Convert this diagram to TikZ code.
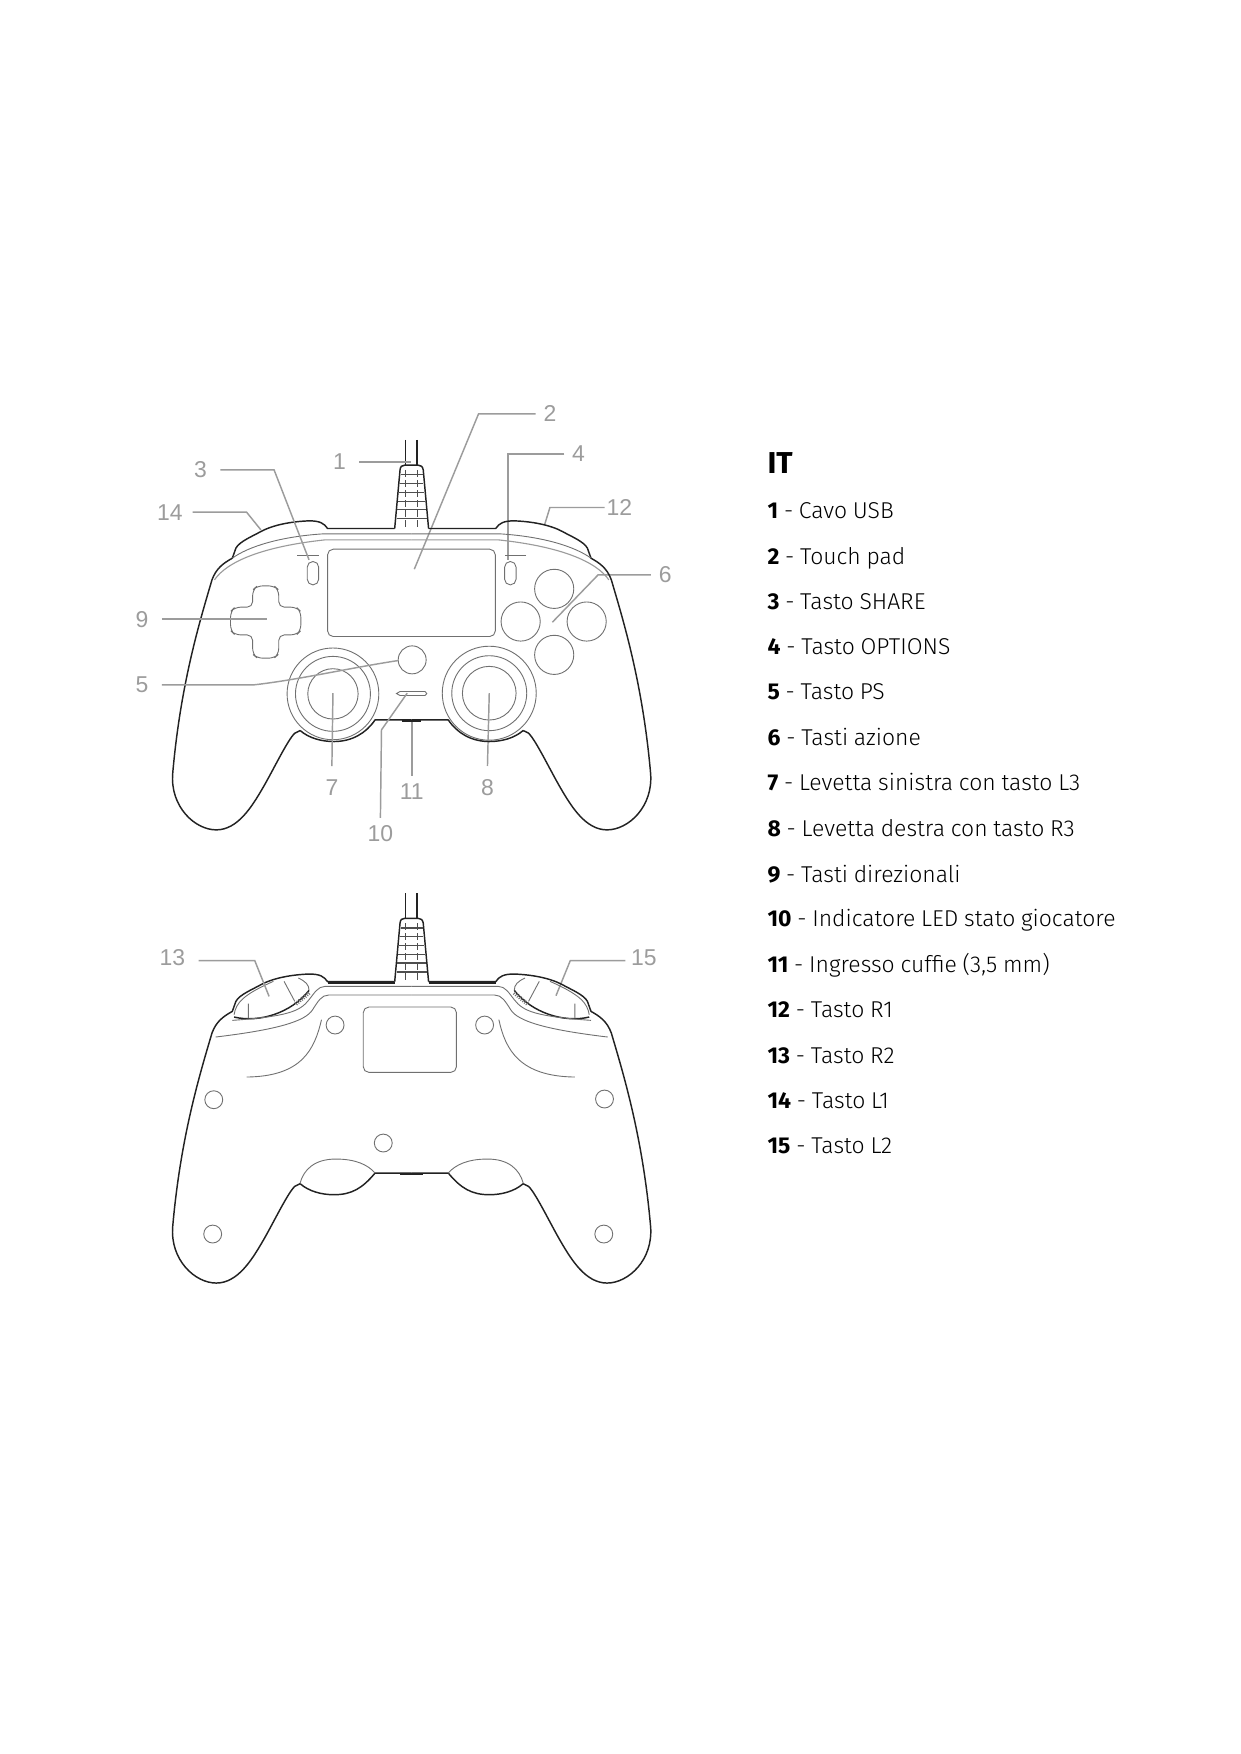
\documentclass[tikz,border=0pt]{standalone}
\usepackage{fontspec}
\setmainfont{Fira Sans Light}[WordSpace=0.9]
\newfontfamily\labfont{Liberation Sans}
\IfFontExistsTF{Fira Sans Heavy}{\newfontfamily\heavyfont{Fira Sans Heavy}}{\newfontfamily\heavyfont{Fira Sans Bold}}
\definecolor{labgrey}{HTML}{9C9C9C}
\definecolor{inkline}{HTML}{222222}
\definecolor{thinline}{HTML}{707070}
\tikzset{
  bodyline/.style={draw=inkline,line width=1.3pt,line join=round},
  thinl/.style={draw=thinline,line width=0.8pt},
  softl/.style={draw=thinline!70,line width=1pt},
  leader/.style={draw=labgrey,line width=1.3pt},
  lab/.style={font=\labfont\fontsize{20.5}{20.5}\selectfont,text=labgrey,inner sep=0pt,outer sep=7pt},
  labl/.style={lab,outer sep=12pt},
  item/.style={font=\fontsize{20.5}{24}\selectfont,anchor=base west,inner sep=0pt,text=black},
  mirrorscope/.style={x=-0.319pt,y=-0.298pt},
  plainscope/.style={x=0.319pt,y=-0.298pt}
}
\newcommand{\itemline}[4]{\node[item] (#1) at (686,#2) {{\heavyfont #3} - #4};}
% left half of the shell, in zoom units
\newcommand{\shellhalf}{
  \draw[bodyline] (770,416) -- (582,416) .. controls (572,400) and (560,393) .. (530,393)
    .. controls (480,395) and (430,405) .. (395,425)
    .. controls (370,440) and (335,455) .. (325,475)
    -- (315,505)
    .. controls (290,520) and (270,535) .. (258,570)
    .. controls (225,690) and (170,880) .. (148,1150)
    .. controls (140,1250) and (210,1320) .. (270,1320)
    .. controls (330,1320) and (370,1250) .. (400,1195)
    .. controls (430,1140) and (470,1050) .. (490,1030) -- (505,1022);
}
\newcommand{\cablestub}{
  \draw[bodyline] (800,150) -- (800,226) (832,150) -- (832,226);
  \draw[bodyline] (770,416) -- (785,240) .. controls (786,230) and (790,226) .. (798,226)
    -- (836,226) .. controls (844,226) and (848,230) .. (850,240) -- (865,416);
  \foreach \ry/\rw in {255/31,280/33,307/36,335/38,360/40,387/42}{
    \draw[draw=inkline!80,line width=1.1pt] (817.5-\rw,\ry) -- (817.5+\rw,\ry);
  }
  \draw[draw=inkline!80,line width=1pt,dash pattern=on 6pt off 3pt] (800,240) -- (800,410) (835,240) -- (835,410);
}
\newcommand{\fronthalf}{
  \shellhalf
  \draw[bodyline] (505,1022) .. controls (530,1045) and (565,1055) .. (600,1055)
    .. controls (650,1055) and (690,1030) .. (715,990) -- (817.5,990);
  \draw[softl] (265,570) .. controls (300,515) and (400,470) .. (575,450) -- (817.5,450);
  \draw[thinl] (315,505) .. controls (360,470) and (450,440) .. (570,432) -- (817.5,432);
  \draw[thinl,line width=1.2pt] (497,497) -- (557,497);
  \draw[thinl,rounded corners=5pt] (525,515) rectangle (557,585);
}
\newcommand{\backhalf}{
  \begin{scope}[shift={(0,-110)}]\shellhalf\end{scope}
  \draw[bodyline] (505,912) .. controls (530,935) and (565,945) .. (600,945)
    .. controls (650,945) and (680,925) .. (715,880) -- (817.5,880);
  \draw[thinl] (505,910) .. controls (515,870) and (545,838) .. (605,838)
    .. controls (660,838) and (695,855) .. (715,880);
  \draw[bodyline] (320,412) .. controls (390,430) and (480,400) .. (530,332);
  \draw[thinl] (320,405) .. controls (325,370) and (345,345) .. (430,305);
  \draw[thinl] (500,295) .. controls (520,305) and (530,315) .. (530,332);
  \draw[thinl] (460,305) -- (490,365) (360,372) -- (360,415);
  \foreach \hk in {0,1,...,7}{
    \draw[thinl] (490+5*\hk,368-4.5*\hk) -- (498+5*\hk,376-4.5*\hk);
  }
  \draw[bodyline] (770,310) -- (582,310);
  \draw[thinl] (817.5,320) -- (575,320) .. controls (555,320) and (545,340) .. (530,360)
     .. controls (505,395) and (470,410) .. (315,422);
  \draw[thinl] (817.5,346) -- (585,346) .. controls (565,346) and (555,365) .. (540,390)
     .. controls (520,425) and (440,450) .. (268,472);
}
\begin{document}
\begin{tikzpicture}[x=1pt,y=-1pt]
\useasboundingbox (0,0) rectangle (1109,1568);
\fill[white] (0,0) rectangle (1109,1568);

% ===== front view =====
\begin{scope}[shift={(107.2,348.5)},plainscope]
  \fronthalf
  \cablestub
  \draw[thinl,rounded corners=5pt] (582,478) rectangle (1052,740);
  \draw[thinl,rounded corners=5pt] (372,652) -- (372,600) -- (385,588) -- (432,588) -- (445,600)
    -- (445,652) -- (495,652) -- (507,665) -- (507,722) -- (495,735) -- (445,735)
    -- (445,793) -- (432,805) -- (385,805) -- (372,793) -- (372,735) -- (322,735)
    -- (310,722) -- (310,665) -- (322,652) -- cycle;
  \foreach \cx/\cy in {1217/597,1123/695,1308/695,1217/795}{
    \draw[thinl] (\cx,\cy) circle[radius=17.5pt];
  }
  \draw[thinl] (819,810) circle[radius=12.5pt];
  \foreach \rr in {41,33.5,22.5}{\draw[thinl] (597,912) circle[radius=\rr pt];}
  \foreach \rr in {42,33.5,24}{\draw[thinl] (1035,910) circle[radius=\rr pt];}
  \draw[thinl] (785,905) -- (855,905) -- (860,911) -- (855,917) -- (785,917) -- (775,911) -- cycle;
  \draw[bodyline,line width=1.8pt] (790,993) -- (845,993);

  \node[labl] (n1) at (615,216) {1};
  \node[lab] (n2) at (1205,72) {2};
  \node[labl] (n3) at (226,240) {3};
  \node[lab] (n4) at (1285,192) {4};
  \node[labl] (n5) at (62,885) {5};
  \node[lab] (n6) at (1528,555) {6};
  \node[labl] (n7) at (594,1193) {7};
  \node[labl] (n8) at (1030,1193) {8};
  \node[labl] (n9) at (62,688) {9};
  \node[lab] (n10) at (730,1332) {10};
  \node[lab] (n11) at (818,1205) {11};
  \node[lab,outer sep=2pt] (n12) at (1400,353) {12};
  \node[lab,outer sep=9pt] (n14) at (140,367) {14};

  \coordinate (t1) at (815,216);
  \coordinate (b2) at (1005,72);   \coordinate (t2) at (825,538);
  \coordinate (b3) at (432,240);   \coordinate (t3) at (530,510);
  \coordinate (b4) at (1088,192);  \coordinate (t4) at (1088,510);
  \coordinate (b5) at (375,885);   \coordinate (t5) at (780,812);
  \coordinate (b6) at (1340,555);  \coordinate (t6) at (1212,697);
  \coordinate (t7) at (597,910);
  \coordinate (t8) at (1035,910);
  \coordinate (t9) at (412,688);
  \coordinate (b10) at (733,1020); \coordinate (t10) at (805,910);
  \coordinate (t11) at (818,995);
  \coordinate (b12) at (1205,353); \coordinate (t12) at (1190,405);
  \coordinate (b14) at (355,367);  \coordinate (t14) at (395,420);

  \draw[leader] (n1.east) -- (t1);
  \draw[leader] (n2.west) -- (b2) -- (t2);
  \draw[leader] (n3.east) -- (b3) -- (t3);
  \draw[leader] (n4.west) -- (b4) -- (t4);
  \draw[leader] (n5.east) -- (b5) .. controls (500,870) and (640,835) .. (t5);
  \draw[leader] (n6.west) -- (b6) -- (t6);
  \draw[leader] (n7.north) -- (t7);
  \draw[leader] (n8.north) -- (t8);
  \draw[leader] (n9.east) -- (t9);
  \draw[leader] (n10.north) -- (b10) -- (t10);
  \draw[leader] (n11.north) -- (t11);
  \draw[leader] (n12.west) -- (b12) -- (t12);
  \draw[leader] (n14.east) -- (b14) -- (t14);
\end{scope}
\begin{scope}[shift={(628.8,348.5)},mirrorscope]
  \fronthalf
\end{scope}

% ===== back view =====
\begin{scope}[shift={(107.2,786.4)},plainscope]
  \backhalf
  \begin{scope}[shift={(0,-110)}]\cablestub\end{scope}
  \draw[thinl,rounded corners=5pt] (682,382) rectangle (943,578);
  \foreach \cx/\cy in {603/436,1022/436,263/660,1358/658,738/790,260/1063,1356/1063}{
    \draw[thinl] (\cx,\cy) circle[radius=8pt];
  }
  \draw[thinl] (565,420) .. controls (545,510) and (510,590) .. (355,592);
  \draw[thinl] (1062,420) .. controls (1080,510) and (1120,590) .. (1275,592);
  \draw[bodyline,line width=1.8pt] (785,883) -- (850,883);
  \node[lab,outer sep=12pt] (n13) at (147,235) {13};
  \node[lab,outer sep=5pt] (n15) at (1468,235) {15};
  \coordinate (b13) at (378,243);  \coordinate (t13) at (418,350);
  \coordinate (b15) at (1262,243); \coordinate (t15) at (1222,348);
  \draw[leader] ([yshift=-2.4pt]n13.east) -- (b13) -- (t13);
  \draw[leader] ([yshift=-2.4pt]n15.west) -- (b15) -- (t15);
\end{scope}
\begin{scope}[shift={(628.8,786.4)},mirrorscope]
  \backhalf
\end{scope}

% ===== legend =====
\node[font=\heavyfont\fontsize{27}{30}\selectfont,anchor=base west,inner sep=0pt] (head) at (686,423) {IT};
\itemline{l1}{463.5}{1}{Cavo USB}
\itemline{l2}{504.5}{2}{Touch pad}
\itemline{l3}{544.5}{3}{Tasto SHARE}
\itemline{l4}{585.5}{4}{Tasto OPTIONS}
\itemline{l5}{625.5}{5}{Tasto PS}
\itemline{l6}{666.5}{6}{Tasti azione}
\itemline{l7}{706.5}{7}{Levetta sinistra con tasto L3}
\itemline{l8}{747.5}{8}{Levetta destra con tasto R3}
\itemline{l9}{788.5}{9}{Tasti direzionali}
\itemline{l10}{828.5}{10}{Indicatore LED stato giocatore}
\itemline{l11}{869.5}{11}{Ingresso cuffie (3,5 mm)}
\itemline{l12}{909.5}{12}{Tasto R1}
\itemline{l13}{950.5}{13}{Tasto R2}
\itemline{l14}{990.5}{14}{Tasto L1}
\itemline{l15}{1031.5}{15}{Tasto L2}
\end{tikzpicture}
\end{document}
